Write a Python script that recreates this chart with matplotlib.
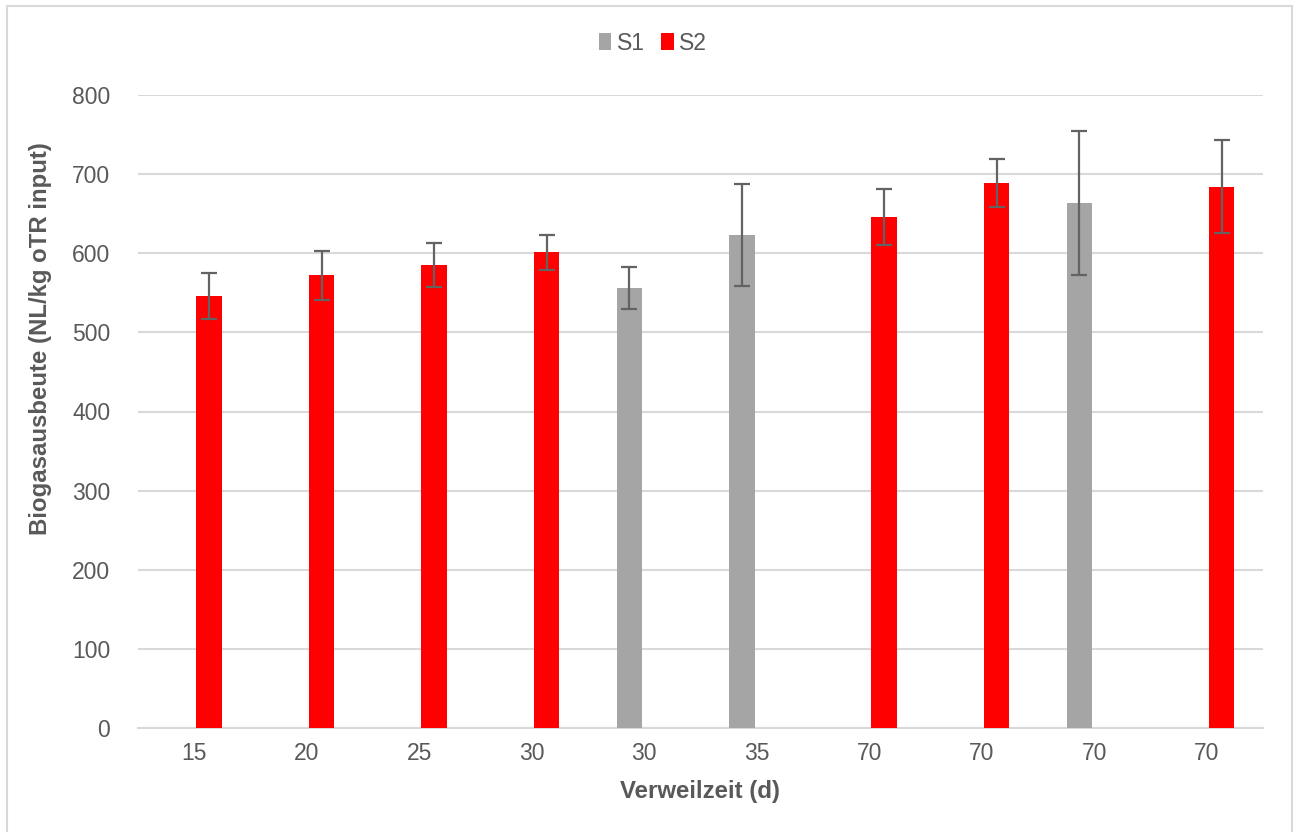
import numpy as np
import matplotlib as mpl
mpl.use("Agg")
import matplotlib.pyplot as plt
from matplotlib.patches import Rectangle

# values
categories = ["15", "20", "25", "30", "30", "35", "70", "70", "70", "70"]
s1 = [0, 0, 0, 0, 556, 623, 0, 0, 663, 0]
s1_err = [0, 0, 0, 0, 27, 64, 0, 0, 91, 0]
s2 = [546, 572, 585, 601, 0, 0, 646, 689, 0, 684]
s2_err = [29, 31, 28, 22, 0, 0, 35, 30, 0, 59]

plt.rcParams['font.family'] = ['Liberation Sans', 'DejaVu Sans']
grey_txt = '#595959'

fig = plt.figure(figsize=(12.98, 8.32), dpi=100)
ax = fig.add_axes([138 / 1298, 1 - 728 / 832, 1125 / 1298, 633 / 832])

x = np.arange(len(categories))
w = 0.227
off = 0.133

# drop the empty bars (value 0) so no error caps are drawn for them
m1 = np.array(s1) > 0
m2 = np.array(s2) > 0
ekw = dict(ecolor='#636363', elinewidth=1.6, capsize=6, capthick=1.6)
ax.bar(x[m1] - off, np.array(s1)[m1], w, yerr=np.array(s1_err)[m1],
       color='#a5a5a5', label='S1', error_kw=ekw, zorder=3)
ax.bar(x[m2] + off, np.array(s2)[m2], w, yerr=np.array(s2_err)[m2],
       color='#ff0000', label='S2', error_kw=ekw, zorder=3)

ax.set_xlim(-0.5, len(categories) - 0.5)
ax.set_ylim(0, 800)
ax.set_yticks(np.arange(0, 801, 100))
ax.set_xticks(x)
ax.set_xticklabels(categories)
ax.yaxis.grid(True, color='#d9d9d9', linewidth=1.5, zorder=0)
ax.set_axisbelow(True)
for s in ['top', 'right', 'left']:
    ax.spines[s].set_visible(False)
ax.spines['bottom'].set_color('#d9d9d9')
ax.spines['bottom'].set_linewidth(1.5)
ax.tick_params(length=0, labelsize=16.5, labelcolor=grey_txt, pad=10)
ax.tick_params(axis='y', pad=20)

ax.set_xlabel('Verweilzeit (d)', fontsize=17.3, fontweight='bold', color=grey_txt, labelpad=11)
fig.text(41 / 1298, 1 - 339 / 832, 'Biogasausbeute (NL/kg oTR input)', rotation=90,
         ha='center', va='center', fontsize=17.3, fontweight='bold', color=grey_txt)

leg = fig.legend(loc='center', bbox_to_anchor=(0.503, 1 - 43 / 832), ncol=2, frameon=False,
                 fontsize=16.5, handlelength=0.55, handleheight=0.7, handletextpad=0.25,
                 columnspacing=0.7)
for t in leg.get_texts():
    t.set_color(grey_txt)

# chart area border
fig.patches.append(Rectangle((7 / 1298, -0.05), 1285 / 1298, 1.05 - 6 / 832,
                             transform=fig.transFigure, fill=False,
                             edgecolor='#d9d9d9', linewidth=1.5))

fig.savefig('out.png', dpi=100)
